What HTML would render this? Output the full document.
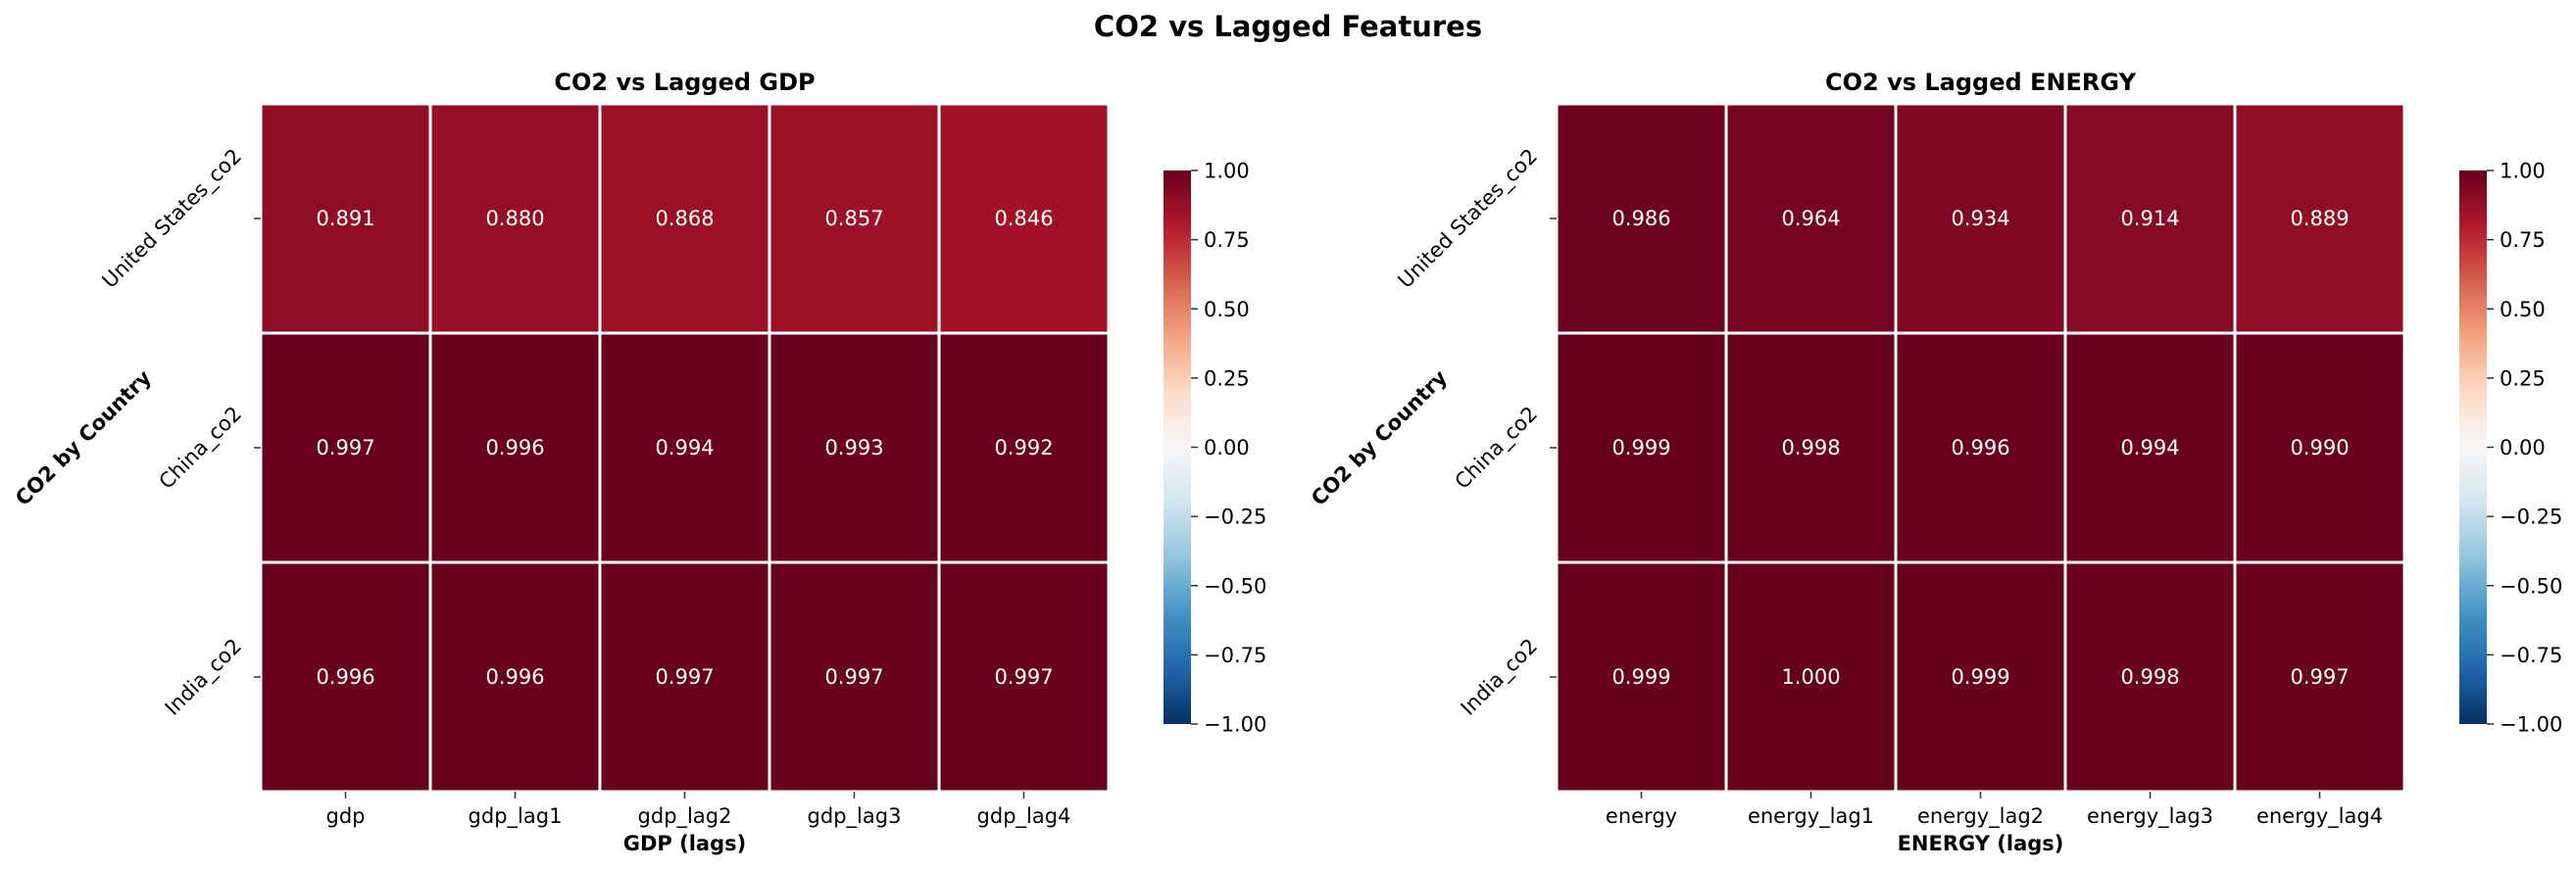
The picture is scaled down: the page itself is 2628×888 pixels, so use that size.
<!DOCTYPE html>
<html><head><meta charset="utf-8"><style>
html,body{margin:0;padding:0;background:#fff;}
svg{display:block;font-family:"DejaVu Sans","Liberation Sans",sans-serif;}
</style></head><body>
<svg id="fig" width="2628" height="888" viewBox="0 0 2628 888">
<defs>
<linearGradient id="rdbu" x1="0" y1="1" x2="0" y2="0">
<stop offset="0" stop-color="#053061"/><stop offset="0.1" stop-color="#2166ac"/><stop offset="0.2" stop-color="#4393c3"/><stop offset="0.3" stop-color="#92c5de"/><stop offset="0.4" stop-color="#d1e5f0"/><stop offset="0.5" stop-color="#f7f7f7"/><stop offset="0.6" stop-color="#fddbc7"/><stop offset="0.7" stop-color="#f4a582"/><stop offset="0.8" stop-color="#d6604d"/><stop offset="0.9" stop-color="#b2182b"/><stop offset="1" stop-color="#67001f"/>
</linearGradient>
</defs>
<text x="1314" y="37" text-anchor="middle" font-size="29" font-weight="bold">CO2 vs Lagged Features</text>
</svg>
<script>
const rows = ["United States_co2","China_co2","India_co2"];
const gdpCols = ["gdp","gdp_lag1","gdp_lag2","gdp_lag3","gdp_lag4"];
const gdpVals = [[0.891,0.880,0.868,0.857,0.846],[0.997,0.996,0.994,0.993,0.992],[0.996,0.996,0.997,0.997,0.997]];
const energyCols = ["energy","energy_lag1","energy_lag2","energy_lag3","energy_lag4"];
const energyVals = [[0.986,0.964,0.934,0.914,0.889],[0.999,0.998,0.996,0.994,0.990],[0.999,1.000,0.999,0.998,0.997]];
const cbTicks = [1.00,0.75,0.50,0.25,0.00,-0.25,-0.50,-0.75,-1.00];

const NS="http://www.w3.org/2000/svg";
const svg=document.getElementById('fig');
const stops=["#053061","#2166ac","#4393c3","#92c5de","#d1e5f0","#f7f7f7","#fddbc7","#f4a582","#d6604d","#b2182b","#67001f"];
function hex(c){return [1,3,5].map(i=>parseInt(c.substr(i,2),16));}
function color(v){let t=(Math.max(-1,Math.min(1,v))+1)/2*10;let i=Math.min(9,Math.floor(t));let f=t-i;
 const a=hex(stops[i]),b=hex(stops[i+1]);return "rgb("+a.map((x,k)=>Math.round(x+(b[k]-x)*f)).join(",")+")";}
function el(tag,attrs,parent){const e=document.createElementNS(NS,tag);for(const k in attrs)e.setAttribute(k,attrs[k]);(parent||svg).appendChild(e);return e;}

function panel(ox,cols,vals,title,xlabel,key){
 const x0=266+ox,x1=1131+ox,y0=106,y1=808;
 const cw=(x1-x0)/cols.length,rh=(y1-y0)/rows.length;
 const xs=j=>x0+j*cw, ys=i=>y0+i*rh;
 const g=el('g',{});
 
 
 rows.forEach((r,i)=>cols.forEach((c,j)=>{
  const rc=el('rect',{x:xs(j),y:ys(i),width:cw,height:rh,fill:color(vals[i][j]),stroke:'#fff','stroke-width':3},g);
  
  
  const t=el('text',{x:xs(j)+cw/2,y:ys(i)+rh/2+7,'text-anchor':'middle','font-size':21,fill:'#fff'},g);
  t.textContent=vals[i][j].toFixed(3);
  
  
 }));
 const tt=el('text',{x:(x0+x1)/2,y:92,'text-anchor':'middle','font-size':24,'font-weight':'bold'});
 tt.textContent=title;
 
 
 cols.forEach((c,j)=>{
  const cx=xs(j)+cw/2;
  el('line',{x1:cx,x2:cx,y1:y1,y2:y1+7,stroke:'#333','stroke-width':1.5});
  const t=el('text',{x:cx,y:840,'text-anchor':'middle','font-size':21});
  t.textContent=c;
  
  
 });
 const xl=el('text',{x:(x0+x1)/2,y:868,'text-anchor':'middle','font-size':21,'font-weight':'bold'});
 xl.textContent=xlabel;
 
 
 rows.forEach((r,i)=>{
  const cy=ys(i)+rh/2;
  el('line',{x1:x0-7,x2:x0,y1:cy,y2:cy,stroke:'#333','stroke-width':1.5});
  const t=el('text',{x:0,y:0,'text-anchor':'middle','dominant-baseline':'central','font-size':21});
  t.textContent=r;
  
  
  const w=t.getComputedTextLength();
  const ext=(w+18)*0.7071;
  const cx=x0-17-ext/2;
  t.setAttribute('transform','translate('+cx+','+cy+') rotate(-45)');
 });
 const yl=el('text',{'text-anchor':'middle','dominant-baseline':'central','font-size':21,'font-weight':'bold',transform:'translate('+(85+ox)+',447) rotate(-45)'});
 yl.textContent='CO2 by Country';
 
 
 // colorbar
 const bx=1187+ox,bw=28,by0=174,by1=739;
 const cb=el('rect',{x:bx,y:by0,width:bw,height:by1-by0,fill:'url(#rdbu)'});
 
 
 const cy=v=>by1-(v+1)/2*(by1-by0);
 cbTicks.forEach(v=>{
  el('line',{x1:bx+bw,x2:bx+bw+7,y1:cy(v),y2:cy(v),stroke:'#333','stroke-width':1.5});
  const t=el('text',{x:bx+bw+13,y:cy(v)+7.5,'font-size':21});
  t.textContent=(v<0?'\u2212':'')+Math.abs(v).toFixed(2);
  
  
 });
}
panel(0,gdpCols,gdpVals,'CO2 vs Lagged GDP','GDP (lags)','gdp');
panel(1322,energyCols,energyVals,'CO2 vs Lagged ENERGY','ENERGY (lags)','energy');
</script>
</body></html>
